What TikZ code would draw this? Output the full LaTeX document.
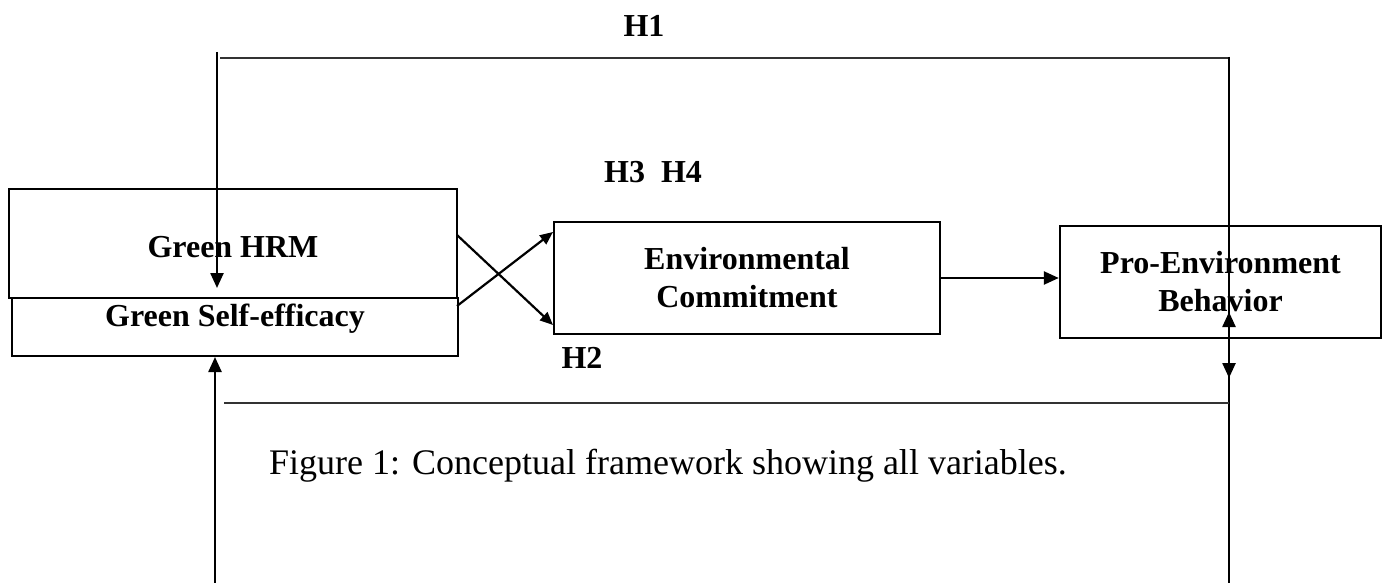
\documentclass[tikz,border=0pt]{standalone}
\usepackage{fontspec}
\setmainfont{Liberation Serif}
\usetikzlibrary{arrows.meta}
\begin{document}
\begin{tikzpicture}[x=1pt,y=-1pt,
  box/.style={draw,line width=2.4pt,inner sep=0pt,font=\bfseries\fontsize{32}{38}\selectfont,align=center},
  lbl/.style={font=\bfseries\fontsize{32}{38}\selectfont,inner sep=0pt},
  thick line/.style={line width=2.4pt},
  thin line/.style={line width=1.4pt,black!80},
  bigarr/.style={line width=2.4pt,-{Triangle[length=15pt,width=13pt]}},
  smallarr/.style={line width=2.2pt,-{Triangle[length=13pt,width=11pt]}}]
\useasboundingbox (0,0) rectangle (1386,583);
% boxes
\node[box,minimum width=448pt,minimum height=109pt] (hrm) at (233,243.5) {};
\node[lbl] (hrmt) at (233,247) {Green HRM};
\node[box,minimum width=446pt,minimum height=58pt] (gse) at (235,327) {};
\node[lbl] (gset) at (235,319) {Green Self-efficacy};
\node[box,minimum width=386pt,minimum height=112pt] (env) at (747,278) {Environmental\\Commitment};
\node[box,minimum width=321pt,minimum height=112pt] (pro) at (1220.5,282) {Pro-Environment\\Behavior};
% labels
\node[lbl] (h1) at (644,26) {H1};
\node[lbl] (h34) at (653,172) {H3\hspace{16pt}H4};
\node[lbl] (h2) at (582,358) {H2};
\node[font=\fontsize{36}{40}\selectfont,inner sep=0pt] (cap) at (668,466) {Figure 1: Conceptual framework showing all variables.};
% coordinates
\coordinate (ltop) at (217,52);
\coordinate (ltip) at (217,288);
\coordinate (tl) at (220,58);
\coordinate (tr) at (1229,58);
\coordinate (rtop) at (1229,57);
\coordinate (rbot) at (1229,583);
\coordinate (rup) at (1229,312);
\coordinate (rdown) at (1229,378);
\coordinate (bl) at (224,403);
\coordinate (br) at (1229,403);
\coordinate (lbot) at (215,583);
\coordinate (lup) at (215,357);
\coordinate (x1s) at (457,235);
\coordinate (x1e) at (553,325);
\coordinate (x2s) at (457,306);
\coordinate (x2e) at (553,232);
% connectors
\draw[bigarr] (ltop) -- (ltip);
\draw[thin line] (tl) -- (tr);
\draw[thick line] (rtop) -- (rbot);
\draw[bigarr] (rbot) -- (rup);
\draw[bigarr] (rtop) -- (rdown);
\draw[thin line] (bl) -- (br);
\draw[bigarr] (lbot) -- (lup);
\draw[smallarr] (x1s) -- (x1e);
\draw[smallarr] (x2s) -- (x2e);
\draw[bigarr] (env.east) -- (env.east -| pro.west);
\end{tikzpicture}
\end{document}
